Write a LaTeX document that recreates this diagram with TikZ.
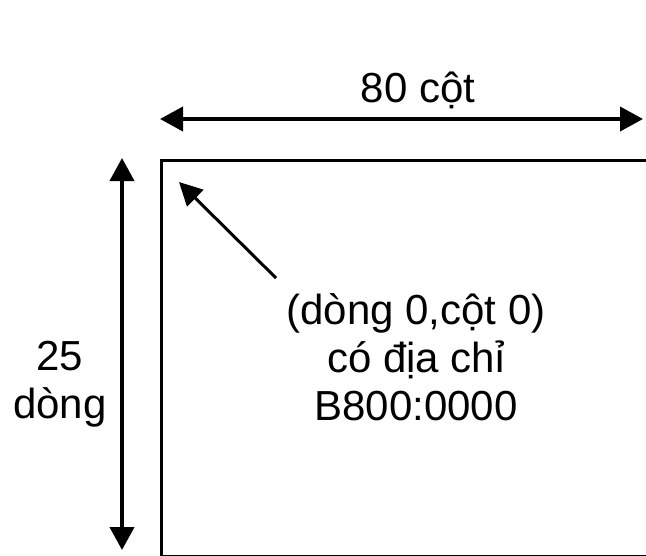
\documentclass[tikz,border=0pt]{standalone}
\usepackage{fontspec}
\setmainfont{Liberation Sans}
\usetikzlibrary{arrows.meta}
\tikzset{
  dimarrow/.style={line width=4pt, {Triangle[length=23pt,width=24pt]}-{Triangle[length=23pt,width=24pt]}},
  pointer/.style={line width=3pt, -{Triangle[length=23pt,width=23pt]}},
  screen/.style={draw, line width=2.5pt},
  lbl/.style={font=\fontsize{42}{48}\selectfont, align=center, inner sep=0pt, anchor=base}
}
\begin{document}
\begin{tikzpicture}[x=1pt,y=-1pt]
\useasboundingbox (0,0) rectangle (646,555);
\clip (0,0) rectangle (646,555);
\fill[white] (0,0) rectangle (646,555);
\node[screen, minimum width=560pt, minimum height=396pt, anchor=north west, inner sep=0pt] (scr) at (160,159) {};
\coordinate (hl) at (160,119);
\coordinate (hr) at (643,119);
\coordinate (vt) at (122,158);
\coordinate (vb) at (122,550);
\draw[dimarrow] (hl) -- (hr);
\draw[dimarrow] (vt) -- (vb);
\node[lbl] (top) at (418,102) {80 cột};
\node[lbl] (rows) at (60,418) {25\\dòng};
\node[lbl] (addr) at (416,420) {(dòng 0,cột 0)\\có địa chỉ\\B800:0000};
\coordinate (tail) at (276,278);
\coordinate (tip) at (179,182);
\draw[pointer] (tail) -- (tip);
\end{tikzpicture}
\end{document}
